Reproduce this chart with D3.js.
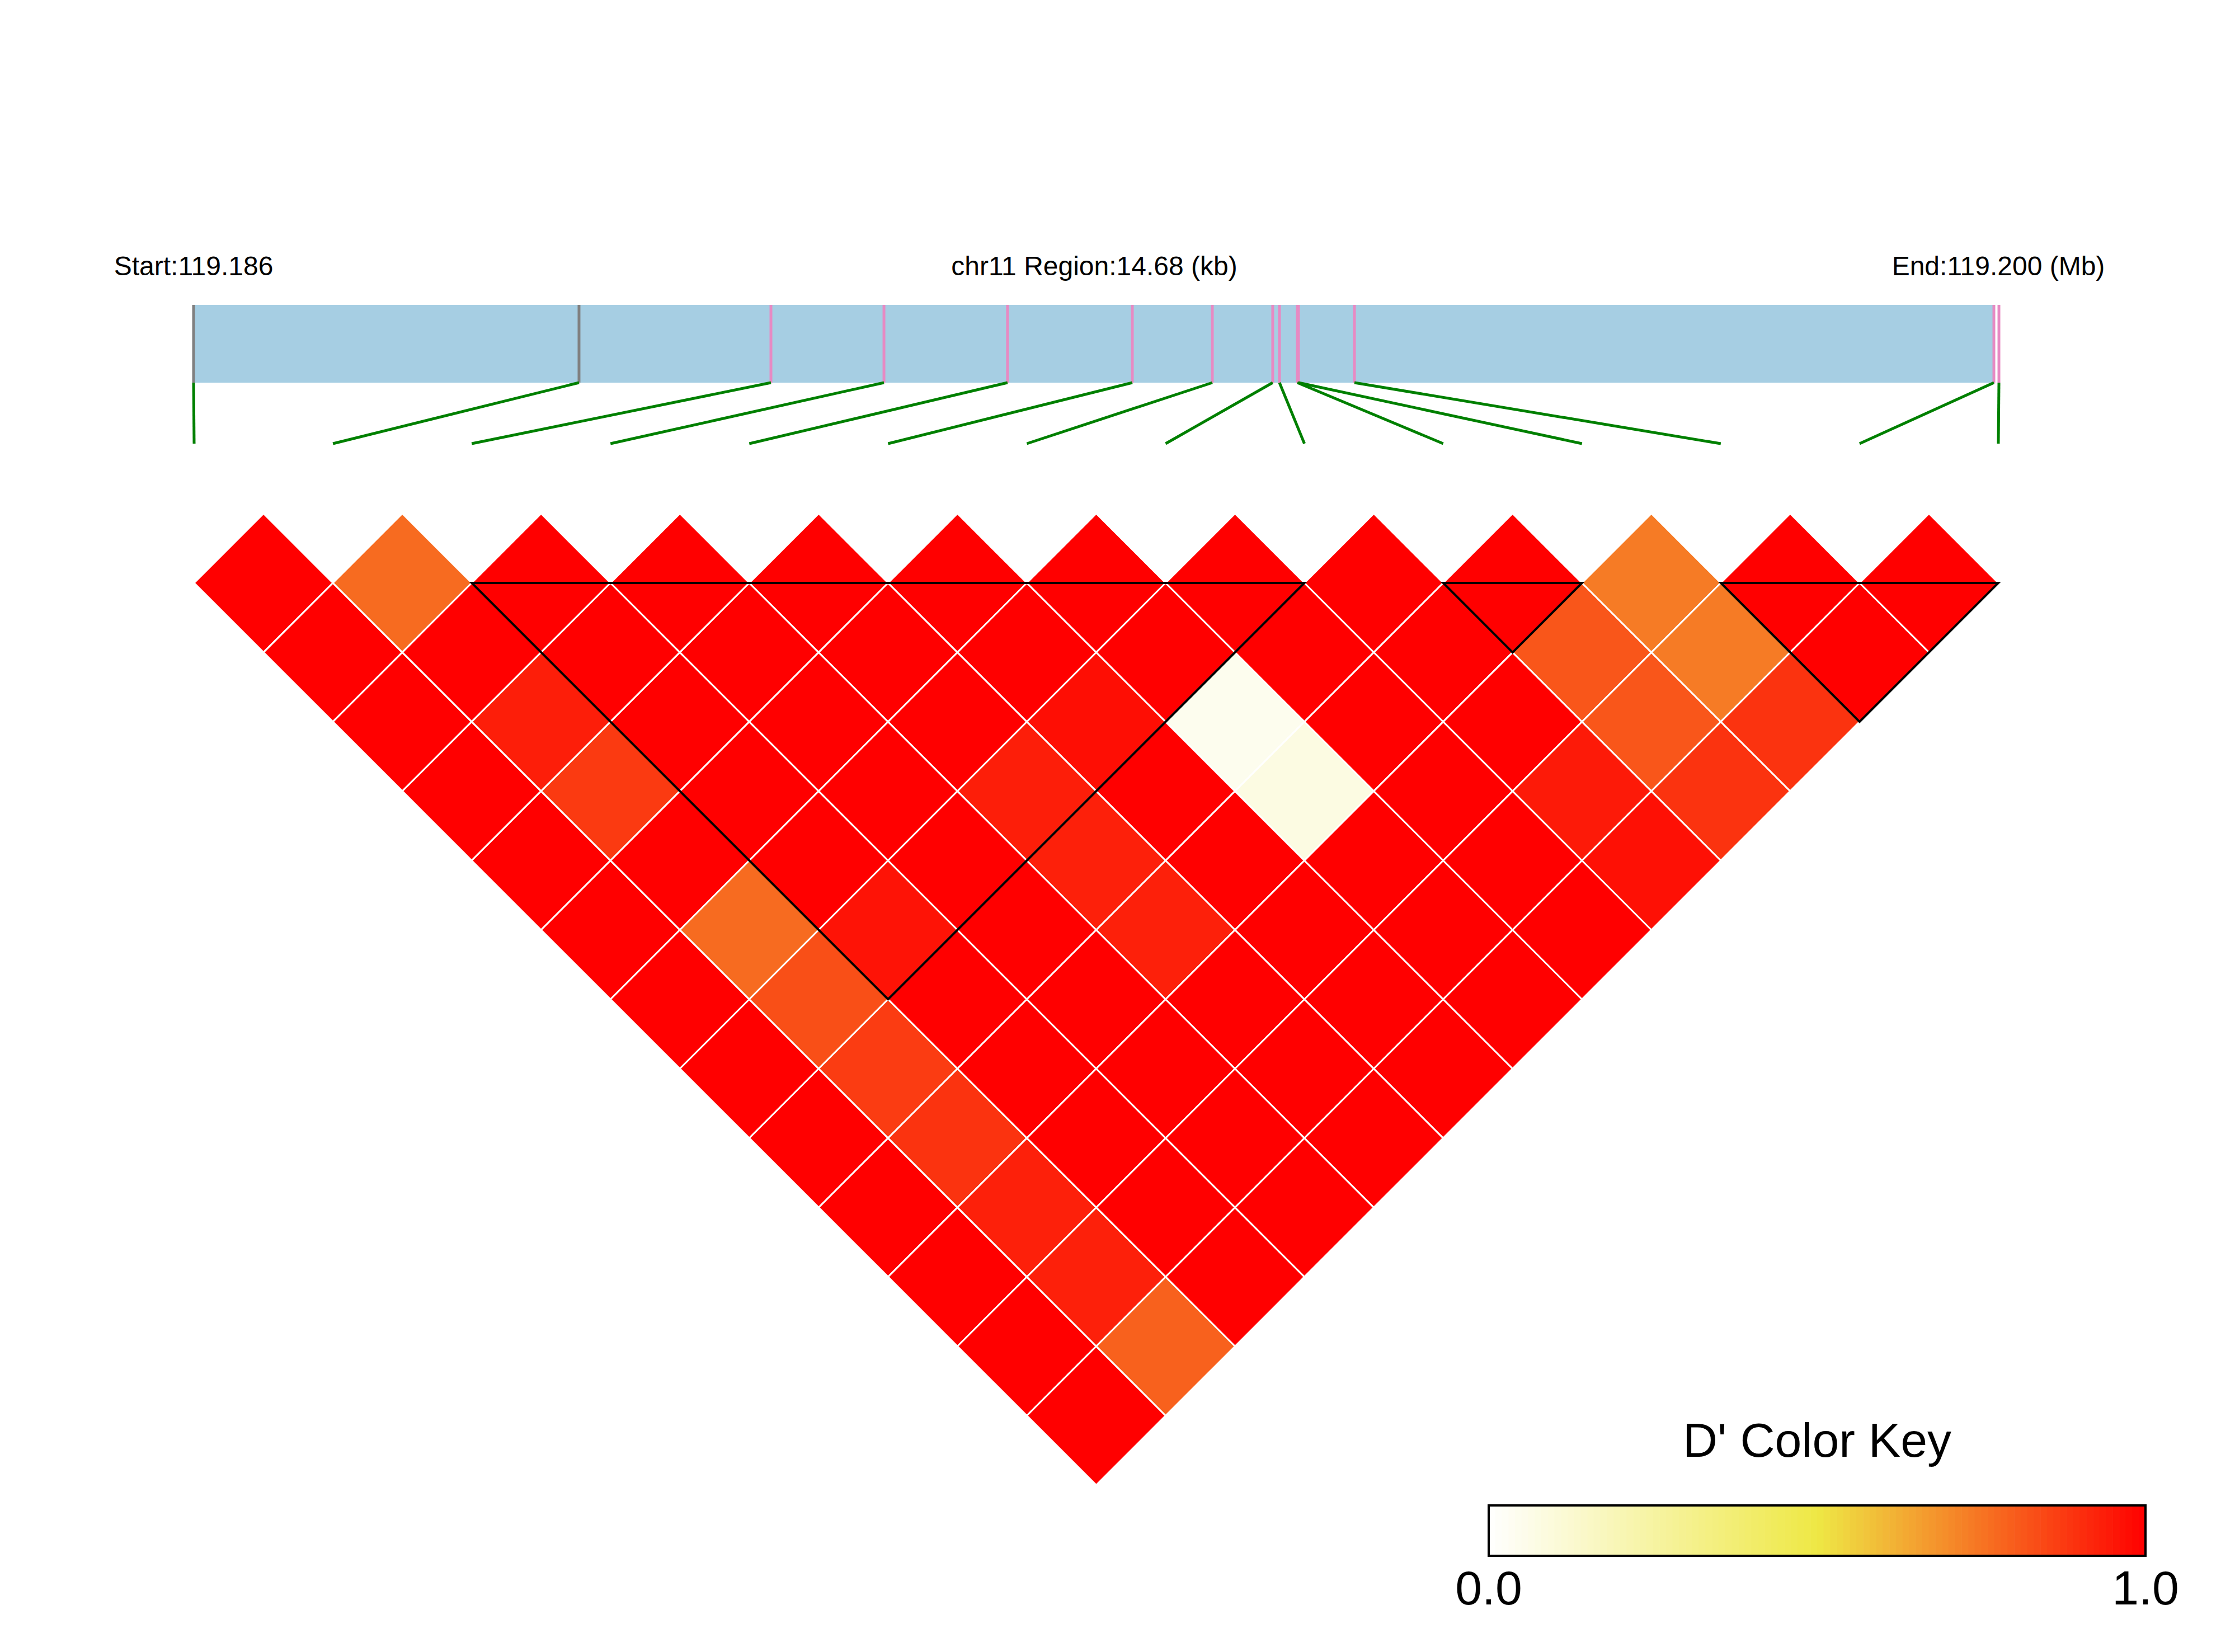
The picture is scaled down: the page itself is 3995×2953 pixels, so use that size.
<!DOCTYPE html>
<html>
<head>
<meta charset="utf-8">
<script src="https://cdn.jsdelivr.net/npm/d3@7"></script>
<style>
  body { margin: 0; background: #fff; }
  text { font-family: 'Liberation Sans', Arial, sans-serif; }
</style>
</head>
<body>
<div class="container"></div>
<script>
const w = 3995;
const h = 2953;

// region info
const chrom = 'chr11';
const regionStart = 119185650;      // bp
const regionLen = 14680;            // bp
// snp offsets from region start (bp)
const snpOffsets = [0, 3141, 4705, 5626, 6633, 7650, 8302, 8794, 8849, 8995, 9004, 9460, 14671, 14712];
// D' values, row i holds pairs (i, j) for j > i
const dprime = [
  [1, 1, 1, 1, 1, 1, 1, 1, 1, 1, 1, 1, 1],
  [0.77, 1, 0.935, 0.875, 1, 0.77, 0.83, 0.87, 0.89, 0.93, 0.93, 0.79],
  [1, 1, 1, 1, 1, 0.96, 1, 1, 1, 1, 1],
  [1, 1, 1, 1, 1, 1, 1, 1, 1, 1],
  [1, 1, 1, 0.935, 0.93, 0.93, 1, 1, 1],
  [1, 1, 0.97, 1, 1, 1, 1, 1],
  [1, 1, 0.046, 0.078, 1, 1, 1],
  [1, 1, 1, 1, 1, 1],
  [1, 1, 1, 0.945, 0.965],
  [1, 0.815, 0.815, 0.89],
  [0.735, 0.735, 0.89],
  [1, 1],
  [1]
];
// LD blocks (first snp index, last snp index)
const blocks = [[2, 8], [9, 10], [11, 13]];
const keyTicks = [0, 1];

const n = snpOffsets.length;
const inBlock = (i) => blocks.some(b => i >= b[0] && i <= b[1]);

const svg = d3.select('.container')
              .append('svg')
              .attr('width', w)
              .attr('height', h)
              .style('display', 'block');

svg.append('rect').attr('width', w).attr('height', h).attr('fill', '#fff');

// scales
const bar = {left: 346, right: 3566, top: 545, bottom: 684};
const posScale = d3.scaleLinear()
                   .domain([0, regionLen])
                   .range([bar.left, bar.right]);
const snpScale = d3.scaleLinear()
                   .domain([0, n - 1])
                   .range([347, 3572]);
const color = d3.scaleLinear()
                .domain([0, 0.5, 1])
                .range(['#ffffff', '#eee845', '#ff0000']);

// header texts
const mb = d3.format('.3f');
const head = svg.append('g').style('font-size', '48px');
head.append('text')
    .attr('x', posScale(0)).attr('y', 492)
    .attr('text-anchor', 'middle')
    .text('Start:' + mb(regionStart / 1e6));
head.append('text')
    .attr('x', (bar.left + bar.right) / 2).attr('y', 492)
    .attr('text-anchor', 'middle')
    .text(chrom + ' Region:' + d3.format('.2f')(regionLen / 1000) + ' (kb)');
head.append('text')
    .attr('x', snpScale(n - 1)).attr('y', 492)
    .attr('text-anchor', 'middle')
    .text('End:' + mb((regionStart + regionLen) / 1e6) + ' (Mb)');

// region bar
svg.append('rect')
   .attr('x', bar.left)
   .attr('y', bar.top)
   .attr('width', bar.right - bar.left)
   .attr('height', bar.bottom - bar.top)
   .attr('fill', '#a6cee3');

svg.append('g')
   .selectAll('line')
   .data(snpOffsets)
   .enter()
   .append('line')
   .attr('x1', d => posScale(d))
   .attr('x2', d => posScale(d))
   .attr('y1', bar.top)
   .attr('y2', bar.bottom)
   .attr('stroke', (d, i) => inBlock(i) ? '#e78ac3' : '#808080')
   .attr('stroke-width', 5);

// connector lines
const linkBottom = 793;
svg.append('g')
   .selectAll('line')
   .data(snpOffsets)
   .enter()
   .append('line')
   .attr('x1', d => posScale(d))
   .attr('y1', bar.bottom)
   .attr('x2', (d, i) => snpScale(i))
   .attr('y2', linkBottom)
   .attr('stroke', 'green')
   .attr('stroke-width', 5);

// heatmap cells
const yTop = 918;
const cells = [];
dprime.forEach((row, i) => row.forEach((v, k) => cells.push({i: i, j: i + k + 1, v: v})));
const half = (snpScale(1) - snpScale(0)) / 2;

svg.append('g')
   .selectAll('path')
   .data(cells)
   .enter()
   .append('path')
   .attr('d', d => {
     const cx = (snpScale(d.i) + snpScale(d.j)) / 2;
     const cy = yTop + (snpScale(d.j) - snpScale(d.i)) / 2;
     return `M${cx},${cy - half}L${cx + half},${cy}L${cx},${cy + half}L${cx - half},${cy}Z`;
   })
   .attr('fill', d => color(d.v))
   .attr('stroke', '#fff')
   .attr('stroke-width', 3);

// block outlines
const base = yTop + half;
svg.append('g')
   .selectAll('path')
   .data(blocks)
   .enter()
   .append('path')
   .attr('d', b => {
     const x0 = snpScale(b[0]), x1 = snpScale(b[1]);
     return `M${x0},${base}L${x1},${base}L${(x0 + x1) / 2},${base + (x1 - x0) / 2}Z`;
   })
   .attr('fill', 'none')
   .attr('stroke', '#000')
   .attr('stroke-width', 4)
   .attr('stroke-linejoin', 'miter');

// colour key
const key = {x: 2661, y: 2691, w: 1174, h: 90};
const steps = d3.range(100);
const keyScale = d3.scaleLinear().domain([0, 1]).range([key.x, key.x + key.w]);
svg.append('text')
   .attr('x', key.x + key.w / 2)
   .attr('y', 2604)
   .attr('text-anchor', 'middle')
   .style('font-size', '86px')
   .text("D' Color Key");
svg.append('g')
   .selectAll('rect')
   .data(steps)
   .enter()
   .append('rect')
   .attr('x', d => keyScale(d / 100))
   .attr('y', key.y)
   .attr('width', key.w / 100 + 0.6)
   .attr('height', key.h)
   .attr('fill', d => color((d + 0.5) / 100));
svg.append('rect')
   .attr('x', key.x).attr('y', key.y)
   .attr('width', key.w).attr('height', key.h)
   .attr('fill', 'none')
   .attr('stroke', '#000')
   .attr('stroke-width', 4);
svg.append('g')
   .selectAll('text')
   .data(keyTicks)
   .enter()
   .append('text')
   .attr('x', d => keyScale(d))
   .attr('y', 2868)
   .attr('text-anchor', 'middle')
   .style('font-size', '86px')
   .text(d => d3.format('.1f')(d));
</script>
</body>
</html>
